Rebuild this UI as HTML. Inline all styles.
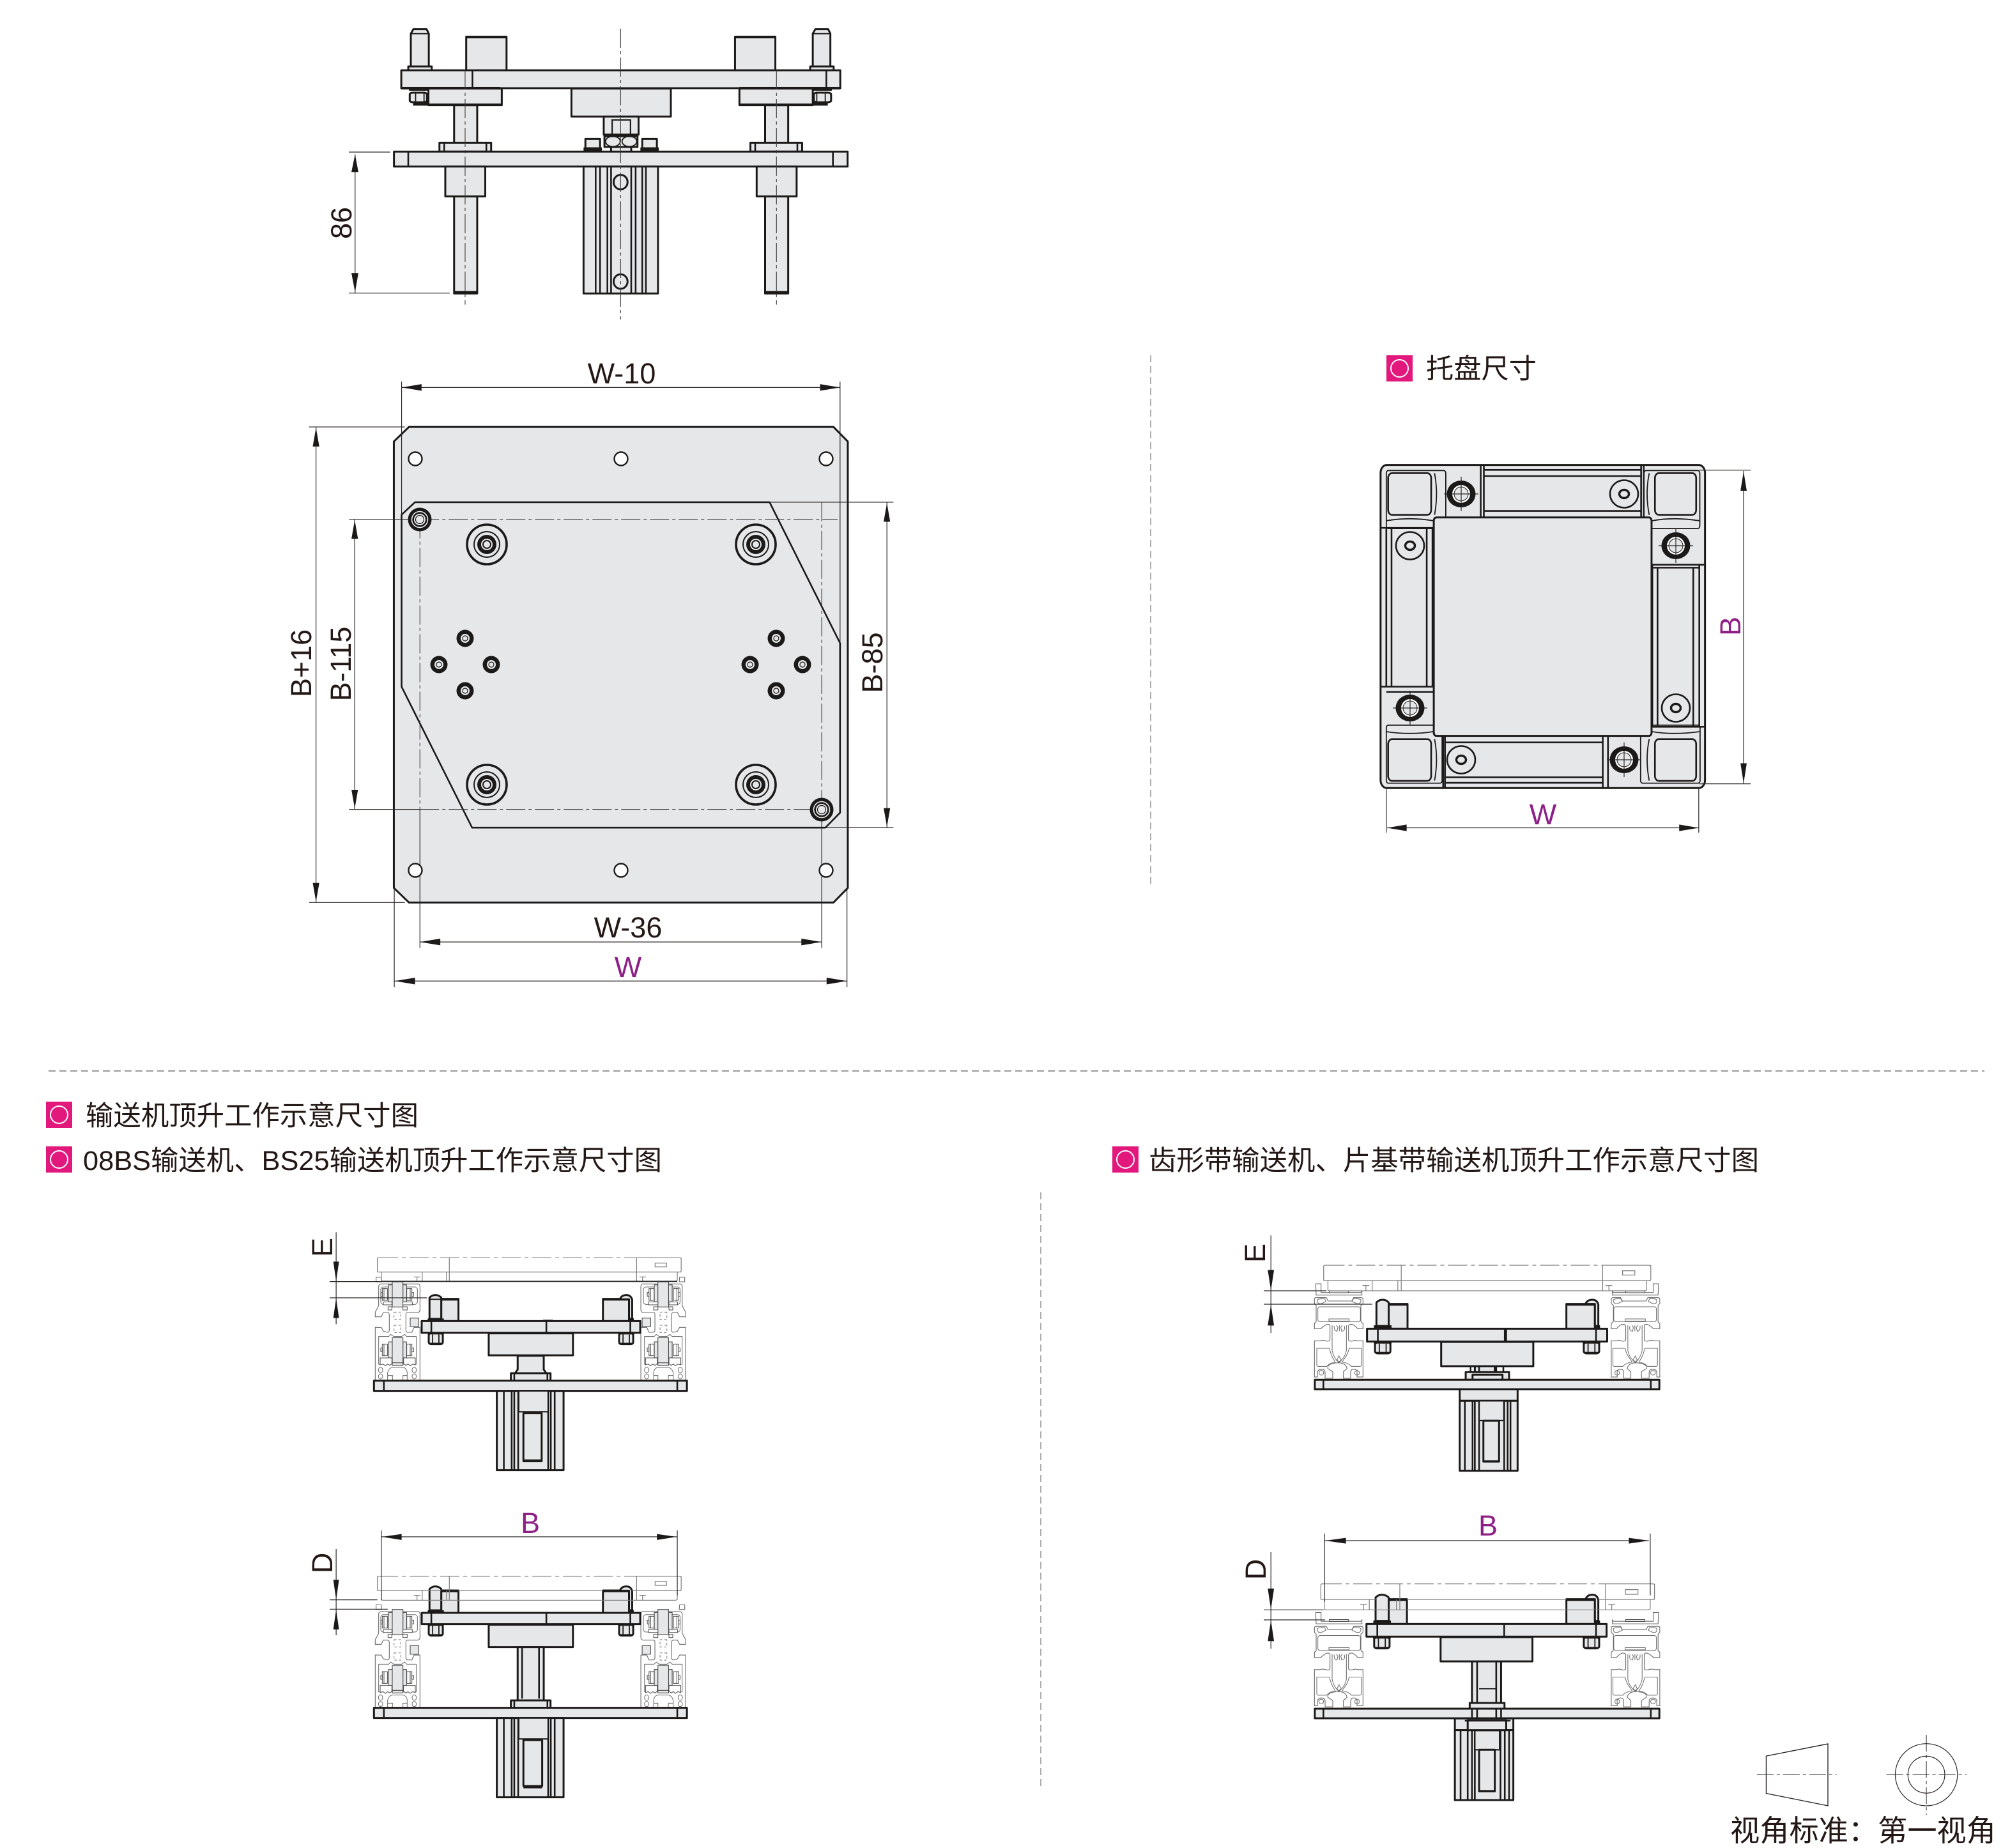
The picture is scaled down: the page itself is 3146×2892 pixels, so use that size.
<!DOCTYPE html>
<html lang="zh"><head><meta charset="utf-8"><title>顶升工作示意尺寸图</title>
<style>
html,body{margin:0;padding:0;background:#fff}
svg{display:block}
svg *{vector-effect:non-scaling-stroke}
.o{fill:#e6e7e9;stroke:#1c1a19;stroke-width:3;stroke-linejoin:round}
.b{fill:#e6e7e9;stroke:#1c1a19;stroke-width:2.2}
.h{fill:none;stroke:#1c1a19;stroke-width:2.6}
.m{fill:none;stroke:#1c1a19;stroke-width:1.8}
.w{fill:#fff;stroke:#1c1a19;stroke-width:2.4}
.t{fill:none;stroke:#2b2826;stroke-width:1.2}
.c{fill:none;stroke:#3a3a3a;stroke-width:1.1;stroke-dasharray:30 5 5 5}
.p{fill:none;stroke:#7d7d7d;stroke-width:1.2}
.q{fill:none;stroke:#7d7d7d;stroke-width:1.2;stroke-dasharray:30 6 6 6}
.r{fill:#fff;stroke:#6a6a6a;stroke-width:1.1}
.l{fill:none;stroke:#6a6a6a;stroke-width:1}
.s{fill:#e6e7e9;stroke:#4a4a4a;stroke-width:1.1}
.f{fill:#fff;stroke:#4a4a4a;stroke-width:1}
.n{fill:none;stroke:#4a4a4a;stroke-width:1}
.y{fill:none;stroke:#777;stroke-width:1;stroke-dasharray:4 3}
.k{fill:#1c1a19}
.g{fill:none;stroke:#9a9a9a;stroke-width:2;stroke-dasharray:11 6}
text{font-family:"Liberation Sans","Noto Sans CJK SC",sans-serif;fill:#231815}
.d{font-size:45px}
.v{font-size:45px;fill:#8e1f86}
.z{font-family:"Liberation Sans","Noto Sans CJK SC",sans-serif;font-size:43px}
</style></head><body>
<svg xmlns="http://www.w3.org/2000/svg" width="3146" height="2892" viewBox="0 0 3146 2892">
<defs>
<g id="hole"><circle r="10.5" fill="#fff" stroke="#1c1a19" stroke-width="2.4"/></g>
<g id="fit"><circle r="31" fill="none" stroke="#1c1a19" stroke-width="3.6"/><circle r="20" fill="none" stroke="#1c1a19" stroke-width="2"/><circle r="15" fill="#1c1a19"/><circle r="9" fill="#e6e7e9"/><circle r="6" fill="none" stroke="#1c1a19" stroke-width="2"/></g>
<g id="sm"><circle r="13.5" fill="#1c1a19"/><circle r="7" fill="#e6e7e9"/><circle r="4" fill="none" stroke="#1c1a19" stroke-width="1.2"/></g>
<g id="pin"><circle r="18.5" fill="#1c1a19"/><circle r="12.5" fill="none" stroke="#e6e7e9" stroke-width="1.6"/><circle r="9" fill="#e6e7e9"/><circle r="6.5" fill="none" stroke="#1c1a19" stroke-width="1.2"/></g>
<g id="sd"><line x1="-27" x2="27" class="t"/><line y1="-27" y2="27" class="t"/><ellipse rx="22.5" ry="21" fill="#1c1a19"/><ellipse rx="14" ry="14" fill="#fff"/><ellipse rx="11" ry="11" fill="#e6e7e9" stroke="#1c1a19" stroke-width="1"/><line x1="-14" x2="14" class="t"/><line y1="-14" y2="14" class="t"/></g>
<g id="so"><ellipse rx="22" ry="21.5" fill="#e6e7e9" stroke="#1c1a19" stroke-width="2.6"/><ellipse rx="7.5" ry="6.5" fill="#e6e7e9" stroke="#1c1a19" stroke-width="3.4"/></g>
<g id="mk"><rect width="41" height="41" fill="#e2187d"/><ellipse cx="20.5" cy="20.5" rx="13.5" ry="13.5" fill="none" stroke="#fff" stroke-width="2"/></g>

<g id="rail4">
<path class="r" d="M26,48V26H50L52,48Z"/>
<path class="r" d="M22,510V262H50L60,280 80,285Q88,285 88,272V205Q88,192 80,192H60L50,212H22V190L38,160V70Q38,60 48,58H225Q232,60 232,72V178Q232,190 222,192H194Q182,192 170,192Q166,192 166,205V272Q166,285 174,285H194L204,262H232V510Z"/>
<rect class="l" x="48" y="72" width="172" height="82" rx="12"/>
<rect class="s" x="186" y="218" width="40" height="40"/>
<rect class="y" x="110" y="190" width="32" height="34"/><rect class="y" x="110" y="252" width="32" height="34"/>
<path class="l" d="M38,305H85L95,295 110,305H145L160,295 170,305H215V435H38Z"/>
<rect class="s" x="85" y="62" width="17" height="80"/><rect class="s" x="152" y="62" width="17" height="80"/>
<rect class="s" x="102" y="48" width="50" height="118"/>
<path class="f" d="M82,165H100V180H82ZM152,165H172V180H152ZM60,142H100V156H60ZM152,142H196V156H152Z"/>
<rect class="f" x="55" y="80" width="24" height="55"/><rect class="f" x="170" y="80" width="24" height="55"/>
<path class="n" d="M63,80V135M186,80V135"/>
<rect class="f" x="48" y="98" width="7" height="18"/><rect class="f" x="194" y="98" width="8" height="18"/>
<rect class="s" x="85" y="330" width="17" height="75"/><rect class="s" x="152" y="330" width="17" height="75"/>
<rect class="s" x="102" y="310" width="50" height="120"/>
<rect class="f" x="55" y="340" width="24" height="55"/><rect class="f" x="170" y="340" width="24" height="55"/>
<path class="n" d="M63,340V395M186,340V395"/>
<rect class="f" x="48" y="358" width="7" height="18"/><rect class="f" x="194" y="358" width="8" height="18"/>
<path class="f" d="M45,405H100V432L90,440 80,434 70,442 58,434 45,438ZM155,405H210V438L198,434 186,442 176,434 166,440 155,432Z"/>
<rect class="s" x="102" y="428" width="50" height="12"/>
<ellipse class="l" cx="47" cy="462" rx="10" ry="13"/><ellipse class="l" cx="47" cy="492" rx="10" ry="12"/>
<ellipse class="l" cx="205" cy="462" rx="10" ry="13"/><ellipse class="l" cx="205" cy="492" rx="10" ry="12"/>
<path class="l" d="M80,510V475Q85,455 100,450H155Q170,455 172,475V510H152V488H172M80,488H103V510"/>
</g>

<g id="rail6">
<path class="r" d="M28,27H53V68H240L245,62V80H30Z"/>
<rect class="s" x="92" y="60" width="90" height="9"/>
<path class="r" d="M22,100Q22,92 30,92H78L86,108H198L206,92H240Q250,92 250,100V120L240,128V200Q240,210 250,212V238H225Q215,225 200,218Q186,215 182,225V290Q182,298 200,296Q215,290 225,295H250V465H222V445Q225,428 205,428Q192,428 192,445V470H158V440L175,425Q170,400 137,398Q80,400 85,425L108,440V470H72V445Q72,428 55,428Q38,428 36,445V465H22V295H48Q60,290 78,296Q95,298 95,290V225Q95,215 80,218Q65,225 52,238H22V212Q32,210 30,200V128L22,120Z"/>
<path class="l" d="M36,102Q50,95 70,98L76,110 55,120Q40,125 36,110ZM240,102Q225,95 205,98L198,110 220,120Q235,125 240,110Z"/>
<rect class="l" x="38" y="135" width="200" height="70" rx="10"/>
<rect class="l" x="90" y="192" width="95" height="10"/>
<path class="l" d="M105,222V340Q110,365 125,385L137,398 150,385Q168,365 172,340V222M33,330H92Q100,360 108,375L120,395Q90,400 80,415H40Q33,415 33,408ZM242,330H185Q178,360 165,375L152,395Q185,400 195,415H235Q242,415 242,408Z"/>
<path class="l" d="M115,225Q112,248 128,250L132,232 125,222M162,225Q168,248 150,250L146,232 152,222M139,222V250M128,385L137,366 148,385 137,394Z"/>
<circle class="l" cx="54" cy="445" r="11"/><circle class="l" cx="222" cy="445" r="11"/>
</g>
<g id="nut4"><rect class="o" x="517" y="529" width="54" height="52" rx="10"/><line class="m" x1="532" x2="532" y1="535" y2="578"/><line class="m" x1="556" x2="556" y1="535" y2="578"/><rect class="k" x="513" y="527" width="62" height="8"/><rect class="k" x="522" y="574" width="44" height="9"/></g>
<g id="nut1"><rect class="k" x="279" y="354" width="52" height="12"/><rect class="k" x="290" y="416" width="40" height="20"/><rect class="o" x="281" y="375" width="47" height="45" rx="8"/><path class="m" d="M297,378V418M320,378V418"/></g>
</defs>

<!-- separators -->
<line class="g" x1="76" y1="1676" x2="3106" y2="1676"/>
<line class="g" x1="1801" y1="556" x2="1801" y2="1386" style="stroke-width:1.6"/>
<line class="g" x1="1629" y1="1866" x2="1629" y2="2800" style="stroke-width:1.6"/>

<!-- DRAWING 1 -->
<g transform="translate(480,20) scale(.574,.3333)">
<path class="o" d="M284,252V98L291,77H327L333,98V252Z"/><line class="m" x1="285" x2="332" y1="98" y2="98"/><rect class="o" x="277" y="252" width="64" height="18"/>
<path class="o" d="M1380,252V98L1387,77H1422L1428,98V252Z"/><line class="m" x1="1381" x2="1427" y1="98" y2="98"/><rect class="o" x="1373" y="252" width="64" height="18"/>
<rect class="o" x="435" y="112" width="110" height="158"/><rect class="k" x="435" y="108" width="110" height="12"/>
<rect class="o" x="1168" y="112" width="110" height="158"/><rect class="k" x="1168" y="108" width="110" height="12"/>
<rect class="o" x="402" y="434" width="63" height="178"/><rect class="o" x="1250" y="434" width="63" height="178"/>
<rect class="o" x="332" y="356" width="200" height="78"/><rect class="o" x="1180" y="356" width="200" height="78"/>
<rect class="k" x="332" y="426" width="200" height="10"/><rect class="k" x="1180" y="426" width="200" height="10"/>
<use href="#nut1"/><use href="#nut1" transform="translate(1711,0) scale(-1,1)"/>
<rect class="o" x="258" y="270" width="1197" height="84"/>
<line class="h" x1="452" x2="452" y1="270" y2="354"/><line class="h" x1="1417" x2="1417" y1="270" y2="354"/>
<rect class="k" x="258" y="348" width="270" height="12"/><rect class="k" x="1180" y="348" width="275" height="12"/>
<rect class="o" x="722" y="356" width="271" height="131"/>
<rect class="o" x="810" y="487" width="95" height="85"/><rect class="b" x="833" y="503" width="50" height="68"/>
<rect class="o" x="830" y="628" width="55" height="26"/>
<rect class="o" x="812" y="572" width="90" height="58"/><ellipse class="m" cx="835" cy="604" rx="20" ry="24"/><ellipse class="m" cx="880" cy="604" rx="20" ry="24"/>
<rect class="k" x="812" y="570" width="90" height="14"/>
<rect class="o" x="760" y="592" width="40" height="44"/><rect class="k" x="755" y="632" width="50" height="22"/>
<rect class="o" x="915" y="592" width="40" height="44"/><rect class="k" x="910" y="632" width="50" height="22"/>
<rect class="o" x="362" y="610" width="141" height="42"/><line class="h" x1="375" x2="375" y1="612" y2="652"/><line class="h" x1="490" x2="490" y1="612" y2="652"/>
<rect class="o" x="1210" y="610" width="141" height="42"/><line class="h" x1="1223" x2="1223" y1="612" y2="652"/><line class="h" x1="1338" x2="1338" y1="612" y2="652"/>
<rect class="o" x="238" y="652" width="1237" height="70"/><line class="h" x1="277" x2="277" y1="652" y2="722"/><line class="h" x1="1435" x2="1435" y1="652" y2="722"/>
<rect class="o" x="402" y="862" width="63" height="456"/><rect class="o" x="1250" y="862" width="63" height="456"/>
<rect class="k" x="402" y="1306" width="63" height="14"/><rect class="k" x="1250" y="1306" width="63" height="14"/>
<rect class="o" x="378" y="722" width="109" height="140"/><rect class="o" x="1227" y="722" width="109" height="140"/>
<rect class="o" x="755" y="722" width="203" height="596"/>
<path class="h" d="M788,722V1316M800,722V1316M820,722V1316M830,722V1316M885,722V1316M897,722V1316M915,722V1316M925,722V1316"/>
<ellipse class="w" style="fill:#e6e7e9;stroke-width:3" cx="856" cy="795" rx="19" ry="34"/><ellipse class="w" style="fill:#e6e7e9;stroke-width:3" cx="856" cy="1262" rx="19" ry="34"/>
<path class="c" d="M856,75V1440M432,270V1370M1281,270V1370"/>
<path class="t" d="M115,654H228M115,1316H390M132,665V1316"/>
<polygon class="k" points="132,665 122,748 141,748"/><polygon class="k" points="132,1312 122,1222 141,1222"/>
</g>
<text class="d" transform="translate(550,349) rotate(-90)" text-anchor="middle">86</text>

<!-- DRAWING 2 -->
<g transform="translate(420,540) scale(.6378,.6505)">
<polygon class="o" points="345,197 1387,197 1422,232 1422,1306 1387,1341 345,1341 308,1306 308,232"/>
<polygon class="o" style="stroke-width:2.6" points="360,378 1230,378 1403,717 1403,1125 1367,1161 500,1161 327,822 327,408"/>
<path class="c" d="M372,419H1397M372,1117H1358M372,419V1117M1358,378V1117"/>
<path class="t" d="M327,88V408M1403,88V717M327,102H1403M372,1117V1450M1358,1117V1450M372,1436H1358M309,1306V1545M1420,1306V1545M310,1530H1420M100,197H335M100,1341H335M117,197V1341M198,419H372M198,1117H372M212,419V1117M1230,378H1534M1367,1161H1534M1518,378V1161"/>
<g class="k">
<polygon points="327,102 376,94 376,110"/><polygon points="1403,102 1354,94 1354,110"/>
<polygon points="372,1436 422,1428 422,1444"/><polygon points="1358,1436 1308,1428 1308,1444"/>
<polygon points="310,1530 360,1522 360,1538"/><polygon points="1420,1530 1370,1522 1370,1538"/>
<polygon points="117,199 109,244 125,244"/><polygon points="117,1339 109,1294 125,1294"/>
<polygon points="212,421 204,466 220,466"/><polygon points="212,1115 204,1070 220,1070"/>
<polygon points="1518,380 1510,425 1526,425"/><polygon points="1518,1159 1510,1114 1526,1114"/>
</g>
</g>
<use href="#hole" x="650" y="718"/><use href="#hole" x="972" y="718"/><use href="#hole" x="1293" y="718"/>
<use href="#hole" x="650" y="1362"/><use href="#hole" x="972" y="1362"/><use href="#hole" x="1293" y="1362"/>
<use href="#fit" x="762" y="852"/><use href="#fit" x="1183" y="852"/><use href="#fit" x="762" y="1228"/><use href="#fit" x="1183" y="1228"/>
<use href="#sm" x="728" y="999"/><use href="#sm" x="687" y="1040"/><use href="#sm" x="769" y="1040"/><use href="#sm" x="728" y="1081"/>
<use href="#sm" x="1215" y="999"/><use href="#sm" x="1174" y="1040"/><use href="#sm" x="1256" y="1040"/><use href="#sm" x="1215" y="1081"/>
<use href="#pin" x="657" y="813"/><use href="#pin" x="1286" y="1267"/>
<text class="d" x="973" y="600" text-anchor="middle">W-10</text>
<text class="d" x="983" y="1467" text-anchor="middle">W-36</text>
<text class="v" x="983" y="1529" text-anchor="middle">W</text>
<text class="d" transform="translate(487,1038) rotate(-90)" text-anchor="middle">B+16</text>
<text class="d" transform="translate(549,1039) rotate(-90)" text-anchor="middle">B-115</text>
<text class="d" transform="translate(1381,1037) rotate(-90)" text-anchor="middle">B-85</text>

<!-- DRAWING 3: tray -->
<g transform="translate(2129,520) scale(.4082,.5102)">
<rect class="o" x="78" y="407" width="1244" height="991" rx="24"/>
<rect class="m" x="100" y="424" width="228" height="178" rx="8"/>
<rect class="m" x="1088" y="424" width="214" height="178" rx="8"/>
<rect class="m" x="100" y="1205" width="214" height="178" rx="8"/>
<rect class="m" x="1075" y="1205" width="228" height="178" rx="8"/>
<path class="m" d="M100,578Q190,566 280,578M1120,578Q1200,566 1300,578M100,1225Q190,1236 280,1225M1120,1225Q1200,1236 1300,1225M285,432Q300,495 285,560M1108,432Q1092,495 1108,560M285,1248Q300,1310 285,1375M1108,1248Q1092,1310 1108,1375"/>
<rect class="h" x="107" y="432" width="165" height="128" rx="15"/>
<rect class="h" x="1130" y="432" width="158" height="128" rx="15"/>
<rect class="h" x="107" y="1248" width="165" height="128" rx="15"/>
<rect class="h" x="1130" y="1248" width="158" height="128" rx="15"/>
<path class="h" d="M462,407V566M474,407V566M1077,407V566M1087,407V566M474,422H1077M474,441H1077M474,548H1077"/>
<path class="h" d="M318,1240V1398M325,1240V1398M930,1240V1398M950,1240V1398M325,1258H930M325,1365H930M325,1382H930"/>
<path class="h" d="M78,600H280M78,1087H280M100,1103H280M100,600V1087M120,600V1087M255,600V1087M277,600V1087"/>
<path class="h" d="M1120,713H1322M1120,722H1300M1120,1210H1322M1120,713V1210M1140,722V1210M1277,722V1210M1300,713V1210"/>
<rect class="o" x="282" y="568" width="835" height="670" rx="10"/>
<path class="t" d="M1300,423H1497M1300,1385H1497M1470,425V1385M100,1395V1535M1298,1395V1535M103,1520H1298"/>
<g class="k"><polygon points="1470,427 1458,486 1482,486"/><polygon points="1470,1383 1458,1322 1482,1322"/><polygon points="103,1520 178,1510 178,1530"/><polygon points="1298,1520 1223,1510 1223,1530"/></g>
</g>
<use href="#sd" x="2287" y="773"/><use href="#sd" x="2623" y="854"/><use href="#sd" x="2207" y="1108"/><use href="#sd" x="2542" y="1189"/>
<use href="#so" x="2542" y="773"/><use href="#so" x="2207" y="854"/><use href="#so" x="2623" y="1108"/><use href="#so" x="2287" y="1189"/>
<text class="v" x="2415" y="1290" text-anchor="middle">W</text>
<text class="v" transform="translate(2724,980) rotate(-90)" text-anchor="middle">B</text>

<!-- headings -->
<use href="#mk" x="2170" y="556"/>
<text class="z" x="2232" y="592" textLength="173" lengthAdjust="spacingAndGlyphs">托盘尺寸</text>
<use href="#mk" x="72" y="1724"/>
<text class="z" x="134" y="1761" textLength="521" lengthAdjust="spacingAndGlyphs">输送机顶升工作示意尺寸图</text>
<use href="#mk" x="72" y="1794"/>
<text class="z" x="130" y="1831" textLength="906" lengthAdjust="spacingAndGlyphs">08BS输送机、BS25输送机顶升工作示意尺寸图</text>
<use href="#mk" x="1741" y="1794"/>
<text class="z" x="1798" y="1831" textLength="955" lengthAdjust="spacingAndGlyphs">齿形带输送机、片基带输送机顶升工作示意尺寸图</text>

<!-- DRAWING 4 -->
<use href="#rail4" transform="translate(580,1990) scale(.3333)"/>
<use href="#rail4" transform="translate(1080.4,1990) scale(-.3333,.3333)"/>
<g transform="translate(460,1910) scale(.4082,.3333)">
<path class="p" d="M320,242V180Q320,175 326,175M1485,175V236Q1485,242 1478,242M1314,175H1478Q1485,175 1485,182M335,242V280Q335,285 345,285H1460Q1470,285 1470,278V242M320,242H1485M596,175V285M1314,175V285M585,242V285"/>
<path class="q" d="M326,175H1314"/>
<rect class="p" x="1385" y="200" width="44" height="18"/>
<path class="p" d="M460,265H485M472,265V285M1325,265H1350M1337,265V285M492,242V285"/>
<line x1="335" x2="1470" y1="286" y2="286" stroke="#333" stroke-width="1.8"/>
<rect class="o" x="565" y="368" width="66" height="104"/><rect class="k" x="565" y="366" width="66" height="10"/>
<rect class="o" x="1185" y="368" width="100" height="104"/><rect class="k" x="1185" y="366" width="100" height="10"/>
<path class="o" d="M520,462V362Q530,350 542,350Q556,350 565,362V462Z"/><line class="m" x1="520" x2="565" y1="370" y2="370"/>
<path class="o" d="M1250,370Q1256,350 1275,350Q1292,350 1297,372V462H1285V370Z"/>
<rect class="k" x="513" y="460" width="62" height="12"/><rect class="k" x="1285" y="458" width="18" height="14"/>
<use href="#nut4"/><use href="#nut4" transform="translate(730,0)"/>
<rect class="o" x="490" y="472" width="838" height="55"/><path class="h" d="M527,472V527M968,472V527M1290,472V527"/>
<rect class="k" x="955" y="466" width="38" height="7"/><rect class="k" x="815" y="526" width="190" height="7"/>
<rect class="o" x="747" y="530" width="323" height="103"/>
<path class="o" d="M858,635H958V700L968,717H848L858,700Z"/>
<rect class="o" x="832" y="717" width="152" height="35"/><path class="h" d="M845,717V752M972,717V752"/>
<rect class="o" x="307" y="752" width="1200" height="48"/><path class="h" d="M345,752V800M1470,752V800"/>
<rect class="o" x="778" y="800" width="256" height="372"/>
<path class="h" d="M805,800V1172M835,800V1172M845,800V1172M860,800V1172M975,800V1172M985,800V1172M1000,800V1172"/>
<rect class="b" x="862" y="800" width="113" height="98"/>
<rect class="o" x="880" y="905" width="70" height="225"/><rect class="k" x="880" y="1122" width="70" height="9"/>
<path class="t" d="M162,55V487M137,287H335M137,363H510"/>
<polygon class="k" points="162,285 151,193 173,193"/><polygon class="k" points="162,365 151,458 173,458"/>
</g>
<text class="d" transform="translate(520,1952) rotate(-90)" text-anchor="middle">E</text>

<!-- DRAWING 5 -->
<use href="#rail4" transform="translate(580,2502.7) scale(.3333)"/>
<use href="#rail4" transform="translate(1080.4,2502.7) scale(-.3333,.3333)"/>
<g transform="translate(460,2350) scale(.4082,.3333)">
<rect class="o" x="565" y="417" width="66" height="105"/><rect class="k" x="565" y="415" width="66" height="10"/>
<rect class="o" x="1185" y="417" width="100" height="105"/><rect class="k" x="1185" y="415" width="100" height="10"/>
<path class="o" d="M520,510V410Q530,398 542,398Q556,398 565,410V510Z"/>
<path class="o" d="M1250,418Q1256,398 1275,398Q1292,398 1297,420V510H1285V418Z"/>
<path class="p" d="M320,417V355Q320,350 326,350M1485,350V411Q1485,417 1478,417M1314,350H1478Q1485,350 1485,357M335,417V458Q335,463 345,463H1460Q1470,463 1470,456V417M320,417H565M630,417H1185M1297,417H1485M596,350V463M1314,350V463M585,417V463"/>
<path class="q" d="M326,350H1314"/>
<rect class="p" x="1385" y="375" width="44" height="18"/>
<path class="p" d="M460,440H485M472,440V463M1325,440H1350M1337,440V463M492,417V463"/>
<rect class="k" x="513" y="510" width="62" height="12"/><rect class="k" x="1285" y="508" width="18" height="14"/>
<use href="#nut4" transform="translate(0,48)"/><use href="#nut4" transform="translate(730,48)"/>
<rect class="o" x="490" y="522" width="838" height="53"/><path class="h" d="M527,522V575M968,522V575M1290,522V575"/>
<rect class="k" x="815" y="574" width="190" height="7"/>
<rect class="o" x="747" y="578" width="323" height="105"/>
<rect class="o" x="858" y="683" width="100" height="250"/><path class="h" d="M875,683V925M940,683V925"/>
<rect class="o" x="832" y="933" width="152" height="35"/><path class="h" d="M845,933V968M972,933V968"/>
<rect class="o" x="307" y="968" width="1200" height="48"/><path class="h" d="M345,968V1016M1470,968V1016"/>
<rect class="o" x="778" y="1016" width="256" height="372"/>
<path class="h" d="M805,1016V1388M835,1016V1388M845,1016V1388M860,1016V1388M975,1016V1388M985,1016V1388M1000,1016V1388"/>
<rect class="b" x="862" y="1016" width="113" height="98"/>
<rect class="o" x="880" y="1120" width="72" height="215"/><rect class="k" x="880" y="1337" width="72" height="9"/>
<path class="t" d="M162,222V627M137,461H320M137,505H360M335,135V463M1470,135V440M335,165H1470"/>
<g class="k"><polygon points="162,460 151,367 173,367"/><polygon points="162,507 151,600 173,600"/><polygon points="338,165 413,152 413,180"/><polygon points="1467,165 1392,152 1392,180"/></g>
</g>
<text class="v" x="830" y="2399" text-anchor="middle">B</text>
<text class="d" transform="translate(520,2446) rotate(-90)" text-anchor="middle">D</text>

<!-- DRAWING 6 -->
<use href="#rail6" transform="translate(2050,2000) scale(.3333)"/>
<use href="#rail6" transform="translate(2605.2,2000) scale(-.3333,.3333)"/>
<g transform="translate(1920,1910) scale(.4464,.3333)">
<path class="p" d="M340,282V215Q340,210 346,210M1487,210V276Q1487,282 1480,282M1318,210H1480Q1487,210 1487,216M355,282V326Q355,330 362,330H1465Q1472,330 1472,325V282M340,282H1487M612,210V330M1318,210V330M600,282V330M510,282V330"/>
<path class="q" d="M346,210H1318"/>
<rect class="p" x="1388" y="236" width="43" height="20"/>
<path class="p" d="M476,305H500M488,305V330M1328,305H1352M1340,305V330"/>
<rect class="o" x="568" y="392" width="66" height="116"/><rect class="k" x="568" y="390" width="66" height="10"/>
<rect class="o" x="1191" y="392" width="100" height="116"/><rect class="k" x="1191" y="390" width="100" height="10"/>
<path class="o" d="M525,495V385Q535,372 546,372Q560,372 568,385V495Z"/>
<path class="o" d="M1258,392Q1264,372 1282,372Q1298,372 1303,394V495H1291V392Z"/>
<rect class="k" x="516" y="492" width="62" height="13"/><rect class="k" x="1291" y="492" width="18" height="14"/>
<use href="#nut4" transform="translate(3,43)"/><use href="#nut4" transform="translate(735,43)"/>
<rect class="o" x="492" y="508" width="842" height="60"/><path class="h" d="M530,508V568M975,508V568M980,508V568M1295,508V568"/>
<rect class="k" x="820" y="566" width="190" height="7"/>
<rect class="o" x="752" y="570" width="323" height="114"/>
<rect class="o" x="870" y="684" width="70" height="30"/>
<path class="h" d="M855,680V712M885,680V712M945,680V712M970,680V712"/>
<rect class="o" x="838" y="712" width="152" height="36"/><rect class="o" x="862" y="724" width="105" height="24"/>
<rect class="o" x="309" y="748" width="1208" height="44"/><path class="h" d="M339,748V792M1487,748V792"/>
<rect class="o" x="817" y="792" width="203" height="55"/>
<rect class="o" x="817" y="847" width="203" height="328"/>
<path class="h" d="M835,847V1175M862,847V1175M870,847V1175M885,847V1175M973,847V1175M985,847V1175M995,847V1175"/>
<rect class="b" x="885" y="847" width="87" height="92"/>
<rect class="o" x="900" y="940" width="55" height="192"/><rect class="k" x="900" y="1126" width="55" height="8"/>
<path class="t" d="M155,70V528M130,330H350M130,393H510"/>
<polygon class="k" points="155,328 144,232 166,232"/><polygon class="k" points="155,395 144,493 166,493"/>
</g>
<text class="d" transform="translate(1980,1961) rotate(-90)" text-anchor="middle">E</text>

<!-- DRAWING 7 -->
<use href="#rail6" transform="translate(2050,2514.5) scale(.3333)"/>
<use href="#rail6" transform="translate(2605.2,2514.5) scale(-.3333,.3333)"/>
<g transform="translate(1920,2350) scale(.4464,.3333)">
<rect class="o" x="568" y="458" width="64" height="116"/><rect class="k" x="568" y="456" width="64" height="10"/>
<rect class="o" x="1191" y="458" width="100" height="116"/><rect class="k" x="1191" y="456" width="100" height="10"/>
<path class="o" d="M522,560V450Q532,437 544,437Q558,437 568,450V560Z"/>
<path class="o" d="M1258,458Q1264,437 1282,437Q1298,437 1303,460V560H1291V458Z"/>
<path class="p" d="M330,459V391Q330,386 336,386M1500,386V453Q1500,459 1493,459M1328,386H1493Q1500,386 1500,392M342,459V504Q342,508 350,508H1478Q1485,508 1485,503V459M330,459H522M632,459H1191M1303,459H1500M607,386V508M1328,386V508M595,459V508M500,459V508"/>
<path class="q" d="M336,386H1328"/>
<rect class="p" x="1398" y="413" width="44" height="22"/>
<path class="p" d="M468,483H492M480,483V508M1338,483H1362M1350,483V508"/>
<rect class="k" x="514" y="558" width="62" height="13"/><rect class="k" x="1291" y="558" width="18" height="14"/>
<use href="#nut4" transform="translate(0,108)"/><use href="#nut4" transform="translate(735,108)"/>
<rect class="o" x="490" y="574" width="842" height="60"/><path class="h" d="M528,574V634M973,574V634M1295,574V634"/>
<rect class="k" x="815" y="632" width="190" height="7"/>
<rect class="o" x="750" y="636" width="322" height="114"/>
<rect class="o" x="860" y="750" width="102" height="195"/><path class="h" d="M878,750V945M945,750V945"/><rect class="k" x="885" y="876" width="60" height="5"/>
<rect class="o" x="852" y="945" width="122" height="28"/>
<rect class="o" x="309" y="972" width="1208" height="45"/><path class="h" d="M339,972V1017M1487,972V1017M860,972V1017M878,972V1017M945,972V1017M962,972V1017"/>
<rect class="o" x="800" y="1018" width="205" height="55"/>
<rect class="o" x="800" y="1073" width="205" height="328"/>
<rect class="o" x="845" y="1027" width="135" height="46"/><rect class="k" x="835" y="1025" width="160" height="7"/>
<path class="h" d="M820,1073V1401M845,1073V1401M860,1073V1401M870,1073V1401M960,1073V1401M975,1073V1401M990,1073V1401"/>
<rect class="b" x="870" y="1075" width="87" height="90"/>
<rect class="o" x="885" y="1165" width="55" height="195"/><rect class="k" x="885" y="1354" width="55" height="8"/>
<path class="t" d="M155,237V690M130,508H340M130,555H345M343,150V470M1485,150V440M343,183H1480"/>
<g class="k"><polygon points="155,506 144,408 166,408"/><polygon points="155,557 144,655 166,655"/><polygon points="346,183 418,170 418,197"/><polygon points="1480,183 1410,170 1410,197"/></g>
</g>
<text class="v" x="2329" y="2403" text-anchor="middle">B</text>
<text class="d" transform="translate(1981,2456) rotate(-90)" text-anchor="middle">D</text>

<!-- projection symbol -->
<g transform="translate(2657,2677) scale(.34)">
<polygon class="t" style="stroke-width:1.4" points="316,209 600,153 600,438 316,381"/>
<path class="c" style="stroke-dasharray:26 5 5 5" d="M273,295H640"/>
</g>
<g transform="translate(2653,2677) scale(.34)">
<path class="c" style="stroke-dasharray:26 5 5 5" d="M881,295H1250M1065,112V480"/>
<circle class="t" cx="1065" cy="295" r="143"/><circle class="t" cx="1065" cy="295" r="85"/>
</g>
<text x="2708" y="2881" font-size="46" textLength="416" lengthAdjust="spacingAndGlyphs">视角标准：第一视角</text>
</svg>
</body></html>
